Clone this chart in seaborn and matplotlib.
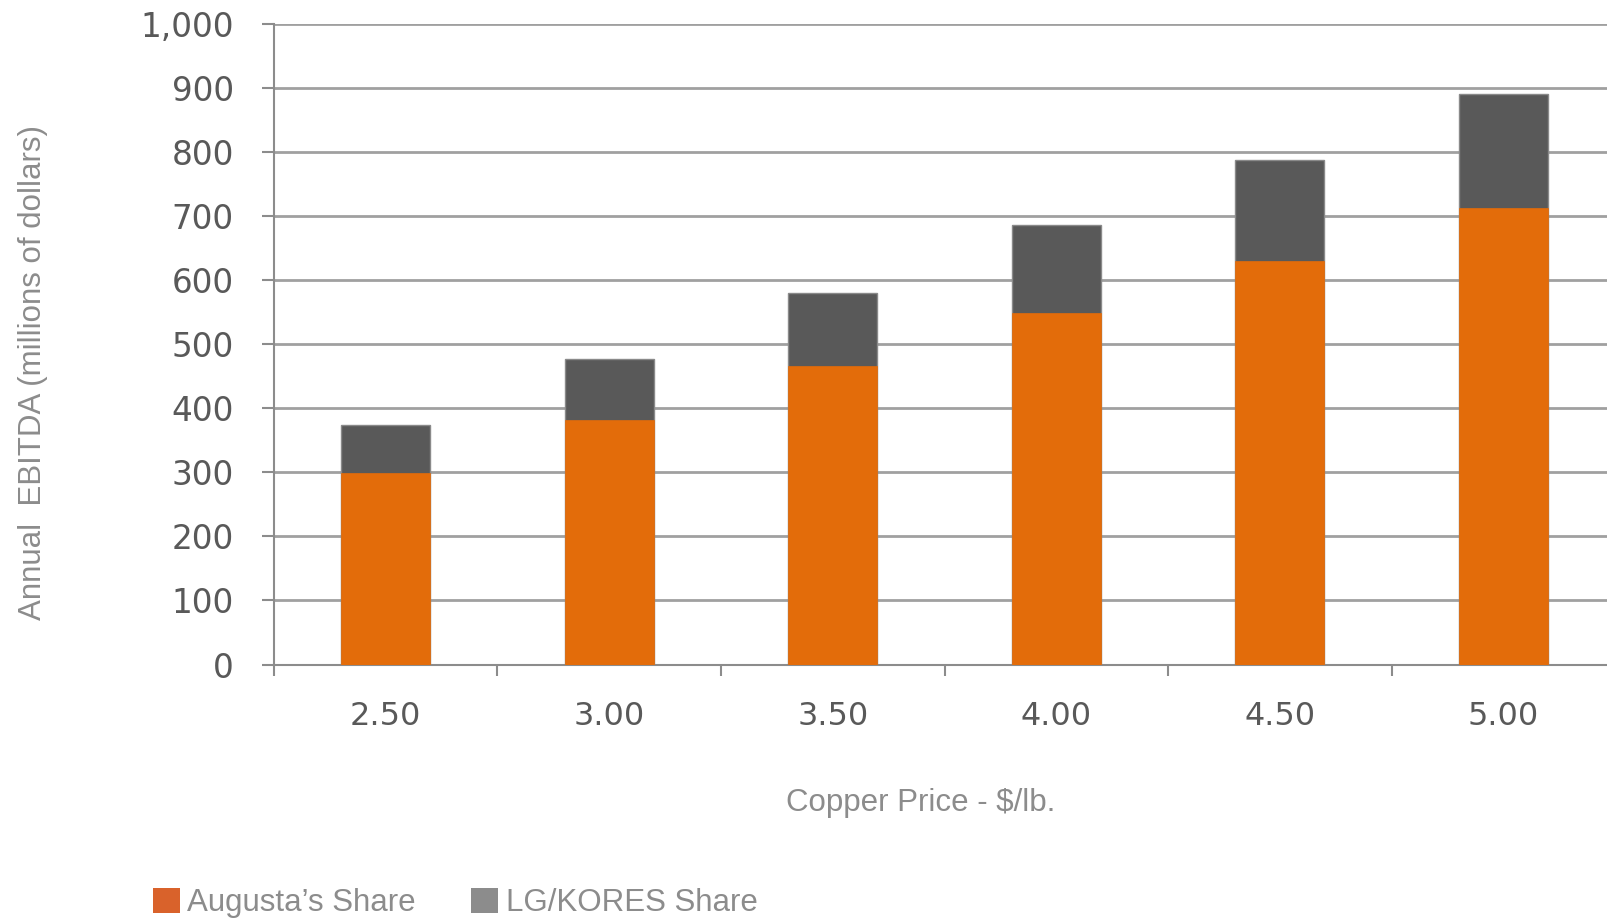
import matplotlib
matplotlib.use("Agg")
import matplotlib.pyplot as plt
import seaborn as sns
import pandas as pd
import numpy as np
from matplotlib.patches import Patch
from matplotlib.ticker import FuncFormatter, FixedLocator

# ---- data ----
prices = ["2.50", "3.00", "3.50", "4.00", "4.50", "5.00"]
augusta_share = [299, 382, 465, 548, 630, 713]
lg_kores_share = [75, 95, 115, 137, 157, 177]
series_names = ["Augusta\u2019s Share", "LG/KORES Share"]
y_ticks = [0, 100, 200, 300, 400, 500, 600, 700, 800, 900, 1000]

df = pd.DataFrame({"price": prices, "augusta": augusta_share, "lg": lg_kores_share})
df["total"] = df["augusta"] + df["lg"]

ORANGE = "#E36C0A"
DARK = "#595959"
LEG_ORANGE = "#D9622B"
LEG_GRAY = "#8C8C8C"
AXIS_GRAY = "#8C8C8C"
TICK_TXT = "#595959"
LABEL_TXT = "#8C8C8C"

sns.set_theme(style="white")
plt.rcParams["font.family"] = ["DejaVu Sans"]

lab_font = ["Liberation Sans", "DejaVu Sans"]

W, H = 1608, 921
fig = plt.figure(figsize=(W / 100, H / 100), dpi=100)
left = 274 / W
bottom = 1 - 664.5 / H
top = 1 - 23.6 / H
width = 1341 / W
ax = fig.add_axes([left, bottom, width, top - bottom])

sns.barplot(data=df, x="price", y="total", color=DARK, width=0.4, ax=ax,
            edgecolor="#8a8a8a", linewidth=1.0, saturation=1, zorder=3)
sns.barplot(data=df, x="price", y="augusta", color=ORANGE, width=0.4, ax=ax,
            edgecolor=ORANGE, linewidth=0.5, saturation=1, zorder=4)

ax.set_ylim(0, 1000)
ax.set_xlim(-0.5, 5.5)
ax.yaxis.set_major_locator(FixedLocator(y_ticks))
ax.yaxis.set_major_formatter(FuncFormatter(lambda v, p: f"{int(v):,}"))
ax.grid(axis="y", color="#A0A0A0", linewidth=2.0, zorder=1)
ax.set_axisbelow(True)

for s in ["top", "right"]:
    ax.spines[s].set_visible(False)
ax.spines["left"].set_color(AXIS_GRAY)
ax.spines["left"].set_linewidth(1.5)
ax.spines["bottom"].set_color(AXIS_GRAY)
ax.spines["bottom"].set_linewidth(1.5)

ax.tick_params(axis="y", which="major", left=True, length=9, width=1.5, color=AXIS_GRAY,
               labelsize=23.5, labelcolor=TICK_TXT, pad=20)
ax.set_xticks(np.arange(-0.5, 6.0, 1.0), minor=True)
ax.tick_params(axis="x", which="minor", bottom=True, length=8, width=1.5, color=AXIS_GRAY)
ax.tick_params(axis="x", which="major", bottom=False, length=0, labelsize=23,
               labelcolor=TICK_TXT, pad=26)

ax.set_xlabel("Copper Price - $/lb.", fontsize=22.5, color=LABEL_TXT, family=lab_font)
ax.xaxis.set_label_coords(921 / W, 1 - 803 / H, transform=fig.transFigure)
ax.xaxis.label.set_va("center")
ax.set_ylabel("Annual  EBITDA (millions of dollars)", fontsize=22.5, color=LABEL_TXT,
              family=lab_font)
ax.yaxis.set_label_coords(33 / W, 1 - 372 / H, transform=fig.transFigure)
ax.yaxis.label.set_va("center")

handles = [Patch(facecolor=LEG_ORANGE, edgecolor="none"),
           Patch(facecolor=LEG_GRAY, edgecolor="none")]
leg = fig.legend(handles, series_names, loc="center left",
                 bbox_to_anchor=(153 / W, 1 - 903 / H), ncol=2, frameon=False,
                 handlelength=0.85, handleheight=0.85, handletextpad=0.25,
                 columnspacing=1.77, borderpad=0, borderaxespad=0,
                 prop={"family": lab_font, "size": 22.5})
for t in leg.get_texts():
    t.set_color(LABEL_TXT)

fig.savefig("out.png", dpi=100)
